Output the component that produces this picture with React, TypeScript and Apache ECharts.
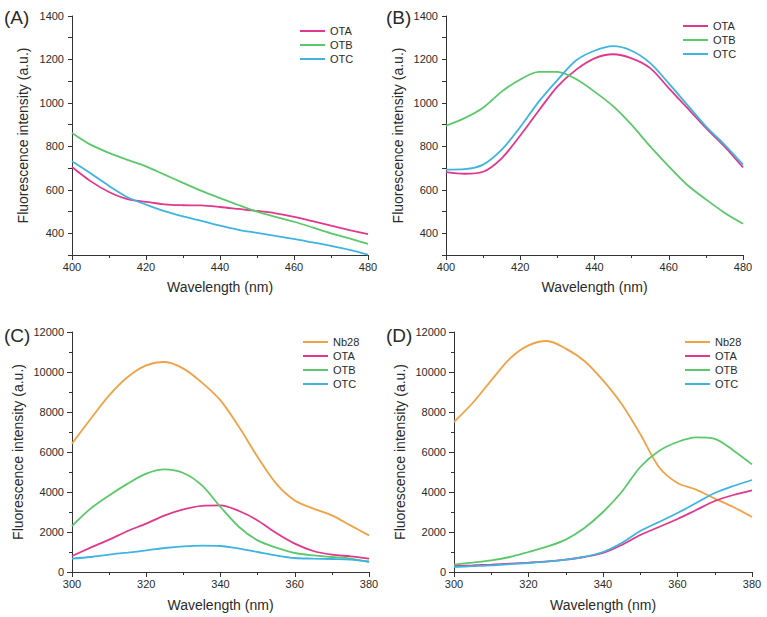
import React, { useEffect, useRef } from "react";
import * as echarts from "echarts";

const wavelengthAB = [400, 405, 410, 415, 420, 425, 430, 435, 440, 445, 450, 455, 460, 465, 470, 475, 480];
const wavelengthCD = [300, 305, 310, 315, 320, 325, 330, 335, 340, 345, 350, 355, 360, 365, 370, 375, 380];

const aOTA = [705, 640, 590, 557, 545, 533, 529, 528, 521, 512, 503, 492, 476, 456, 435, 415, 396];
const aOTB = [862, 808, 770, 738, 708, 670, 632, 595, 562, 530, 500, 476, 453, 427, 400, 376, 351];
const aOTC = [731, 676, 618, 566, 532, 502, 478, 457, 435, 416, 402, 388, 374, 358, 342, 324, 302];

const bOTA = [681, 674, 683, 745, 850, 965, 1075, 1152, 1205, 1224, 1205, 1160, 1068, 977, 885, 800, 703];
const bOTB = [895, 930, 978, 1052, 1108, 1143, 1143, 1110, 1052, 985, 899, 800, 708, 622, 556, 495, 444];
const bOTC = [693, 695, 716, 785, 889, 1006, 1105, 1195, 1240, 1261, 1240, 1183, 1090, 991, 892, 808, 716];

const cNb28 = [6420, 7650, 8830, 9750, 10330, 10500, 10170, 9470, 8580, 7250, 5750, 4420, 3580, 3170, 2830, 2330, 1830];
const cOTA = [800, 1220, 1620, 2050, 2420, 2830, 3130, 3310, 3330, 3050, 2580, 1950, 1420, 1050, 870, 780, 670];
const cOTB = [2300, 3170, 3830, 4420, 4920, 5130, 4950, 4330, 3250, 2250, 1580, 1220, 950, 830, 750, 670, 500];
const cOTC = [670, 750, 870, 970, 1080, 1200, 1280, 1320, 1300, 1170, 1000, 830, 700, 670, 650, 620, 530];

const dNb28 = [7500, 8450, 9580, 10670, 11330, 11550, 11170, 10550, 9580, 8400, 6900, 5250, 4450, 4120, 3670, 3250, 2750];
const dOTA = [300, 330, 370, 420, 470, 530, 620, 750, 950, 1350, 1850, 2250, 2650, 3100, 3550, 3850, 4080];
const dOTB = [370, 470, 580, 750, 1000, 1270, 1620, 2200, 3000, 4000, 5250, 6050, 6500, 6730, 6660, 6080, 5380];
const dOTC = [250, 290, 330, 390, 450, 520, 620, 760, 1000, 1450, 2050, 2500, 2950, 3450, 3950, 4300, 4600];

const panelLabels = ["(A)", "(B)", "(C)", "(D)"];
const xTitle = "Wavelength (nm)";
const yTitle = "Fluorescence intensity (a.u.)";

const COLORS: Record<string, string> = {
  Nb28: "#f0a246",
  OTA: "#e0388c",
  OTB: "#5cc86c",
  OTC: "#3fb4e0",
};

const FONT = "Liberation Sans, Arial, Helvetica, sans-serif";
const TXT = "#2a2a2a";

function pairs(xs: number[], ys: number[]) {
  return xs.map((x, i) => [x, ys[i]]);
}

export default function App() {
  const ref = useRef<HTMLDivElement>(null);
  useEffect(() => {
    if (!ref.current) return;
    const chart = echarts.init(ref.current, null, { renderer: "svg" });

    const grids = [
      { left: 72, right: 399, top: 16, bottom: 362 },
      { left: 446, right: 24, top: 16, bottom: 362 },
      { left: 72, right: 398, top: 332, bottom: 45 },
      { left: 454, right: 15, top: 332, bottom: 45 },
    ];

    const axisLine = { show: true, lineStyle: { color: "#333", width: 1 } };
    const axisLabelBase = { color: TXT, fontSize: 11, fontFamily: FONT };

    const xAxes = grids.map((_, i) => ({
      type: "value",
      gridIndex: i,
      min: i < 2 ? 400 : 300,
      max: i < 2 ? 480 : 380,
      interval: 20,
      axisLine,
      axisTick: { show: true, length: 5, lineStyle: { color: "#333" } },
      minorTick: { show: true, splitNumber: 2, length: 3, lineStyle: { color: "#333" } },
      splitLine: { show: false },
      axisLabel: { ...axisLabelBase, margin: 6, formatter: (v: number) => String(v) },
      name: xTitle,
      nameLocation: "middle",
      nameGap: i < 2 ? 25 : 26,
      nameTextStyle: { color: TXT, fontSize: 14, fontFamily: FONT },
    }));

    const yAxes = grids.map((_, i) =>
      i < 2
        ? {
            type: "value",
            gridIndex: i,
            min: 300,
            max: 1400,
            interval: 100,
            axisLine,
            axisTick: { show: true, length: 4, lineStyle: { color: "#333" } },
            splitLine: { show: false },
            axisLabel: {
              ...axisLabelBase,
              margin: 8,
              formatter: (v: number) => (v % 200 === 0 ? String(v) : ""),
            },
            name: yTitle,
            nameLocation: "middle",
            nameGap: i === 0 ? 42 : 41,
            nameTextStyle: { color: TXT, fontSize: 14, fontFamily: FONT },
          }
        : {
            type: "value",
            gridIndex: i,
            min: 0,
            max: 12000,
            interval: 2000,
            axisLine,
            axisTick: { show: true, length: 5, lineStyle: { color: "#333" } },
            minorTick: { show: true, splitNumber: 2, length: 3, lineStyle: { color: "#333" } },
            splitLine: { show: false },
            axisLabel: { ...axisLabelBase, margin: 8, formatter: (v: number) => String(v) },
            name: yTitle,
            nameLocation: "middle",
            nameGap: 47,
            nameTextStyle: { color: TXT, fontSize: 14, fontFamily: FONT },
          }
    );

    const mk = (name: string, gi: number, xs: number[], ys: number[]) => ({
      type: "line",
      name,
      xAxisIndex: gi,
      yAxisIndex: gi,
      data: pairs(xs, ys),
      smooth: 0.3,
      showSymbol: false,
      symbol: "none",
      itemStyle: { color: COLORS[name] },
      lineStyle: { color: COLORS[name], width: 1.8 },
    });

    const series = [
      mk("OTA", 0, wavelengthAB, aOTA),
      mk("OTB", 0, wavelengthAB, aOTB),
      mk("OTC", 0, wavelengthAB, aOTC),
      mk("OTA", 1, wavelengthAB, bOTA),
      mk("OTB", 1, wavelengthAB, bOTB),
      mk("OTC", 1, wavelengthAB, bOTC),
      mk("Nb28", 2, wavelengthCD, cNb28),
      mk("OTA", 2, wavelengthCD, cOTA),
      mk("OTB", 2, wavelengthCD, cOTB),
      mk("OTC", 2, wavelengthCD, cOTC),
      mk("Nb28", 3, wavelengthCD, dNb28),
      mk("OTA", 3, wavelengthCD, dOTA),
      mk("OTB", 3, wavelengthCD, dOTB),
      mk("OTC", 3, wavelengthCD, dOTC),
    ];

    const legendBase = {
      orient: "vertical",
      selectedMode: false,
      icon: "rect",
      itemWidth: 25,
      itemHeight: 2,
      itemGap: 0,
      padding: 0,
      textStyle: { color: TXT, fontSize: 11, fontFamily: FONT, lineHeight: 14 },
    };

    const legends = [
      { ...legendBase, left: 300, top: 24, data: ["OTA", "OTB", "OTC"] },
      { ...legendBase, left: 683, top: 19, data: ["OTA", "OTB", "OTC"] },
      { ...legendBase, left: 303, top: 335, data: ["Nb28", "OTA", "OTB", "OTC"] },
      { ...legendBase, left: 685, top: 335, data: ["Nb28", "OTA", "OTB", "OTC"] },
    ];

    const labelPos = [
      [4, 17],
      [386, 17],
      [4, 335],
      [386, 335],
    ];

    chart.setOption({
      animation: false,
      backgroundColor: "#ffffff",
      grid: grids,
      xAxis: xAxes,
      yAxis: yAxes,
      legend: legends,
      series,
      graphic: panelLabels.map((t, i) => ({
        type: "text",
        x: labelPos[i][0],
        y: labelPos[i][1],
        style: {
          text: t,
          fill: TXT,
          fontSize: 19,
          fontFamily: FONT,
          verticalAlign: "middle",
          align: "left",
        },
      })),
    });

    return () => chart.dispose();
  }, []);

  return (
    <div
      ref={ref}
      style={{ position: "absolute", left: 0, top: 0, width: 767, height: 617 }}
    />
  );
}
